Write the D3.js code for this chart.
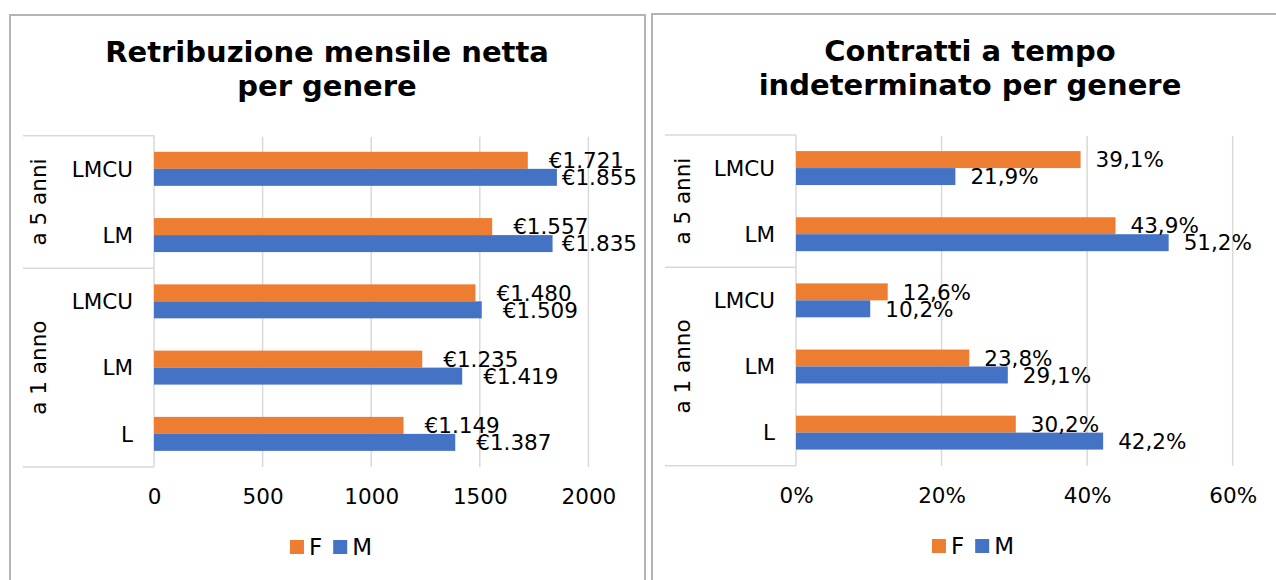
<!DOCTYPE html>
<html>
<head>
<meta charset="utf-8">
<script src="https://cdn.jsdelivr.net/npm/d3@7"></script>
<style>
  html, body { margin: 0; padding: 0; background: #fff; }
  svg { display: block; }
  text { font-family: "DejaVu Sans", Verdana, sans-serif; fill: #000; }
</style>
</head>
<body>
<svg id="chart" width="1276" height="580"></svg>
<script>
// Categories, top to bottom, with the period group each belongs to
const categoryLabels = ["LMCU", "LM", "LMCU", "LM", "L"];
const categoryGroups = ["a 5 anni", "a 5 anni", "a 1 anno", "a 1 anno", "a 1 anno"];
const groupNames = ["a 5 anni", "a 1 anno"];
const seriesNames = ["F", "M"];
const seriesColors = ["#ED7D31", "#4472C4"];

// Net monthly pay (EUR)
const salaryF = [1721, 1557, 1480, 1235, 1149];
const salaryM = [1855, 1835, 1509, 1419, 1387];
const salaryTicks = [0, 500, 1000, 1500, 2000];

// Share of permanent contracts (%)
const contractF = [39.1, 43.9, 12.6, 23.8, 30.2];
const contractM = [21.9, 51.2, 10.2, 29.1, 42.2];
const contractTicks = [0, 20, 40, 60];

const it = d3.formatLocale({
  decimal: ",", thousands: ".", grouping: [3], currency: ["€", ""]
});
const fmtEuro = it.format("$,.0f");
const fmtPct1 = v => it.format(",.1f")(v) + "%";
const fmtPct0 = v => it.format(",.0f")(v) + "%";

const svg = d3.select("#chart");

function drawPanel(cfg) {
  const g = svg.append("g");

  // outer frame
  g.append("rect")
    .attr("x", cfg.box[0]).attr("y", cfg.box[1])
    .attr("width", cfg.box[2]).attr("height", cfg.box[3])
    .attr("fill", "#fff").attr("stroke", "#b4b4b4").attr("stroke-width", 2);

  // title
  const title = g.append("text")
    .attr("text-anchor", "middle")
    .style("font-weight", "bold").style("font-size", "29px");
  cfg.title.forEach((line, i) => {
    title.append("tspan").attr("x", cfg.titleX).attr("y", cfg.titleY[i]).text(line);
  });

  const x = d3.scaleLinear().domain(cfg.domain).range([cfg.x0, cfg.x1]);
  const y = d3.scaleBand().domain(d3.range(categoryLabels.length))
    .range([cfg.yTop, cfg.yBottom]).paddingInner(0).paddingOuter(0);
  const sub = d3.scaleBand().domain(seriesNames)
    .range([0, y.bandwidth()]).paddingInner(0).paddingOuter(0.95);

  // vertical gridlines
  g.append("g").selectAll("line").data(cfg.ticks.slice(1)).join("line")
    .attr("x1", d => x(d)).attr("x2", d => x(d))
    .attr("y1", cfg.yTop + 1).attr("y2", cfg.yBottom)
    .attr("stroke", "#d9d9d9").attr("stroke-width", 1.5);

  // category table lines
  const tbl = g.append("g").attr("stroke", "#d9d9d9").attr("stroke-width", 1.5);
  const groupBounds = groupNames.map(name => {
    const idx = categoryGroups.map((gname, i) => gname === name ? i : -1).filter(i => i >= 0);
    return { name, top: y(idx[0]), bottom: y(idx[idx.length - 1]) + y.bandwidth() };
  });
  const hLines = [cfg.yTop].concat(groupBounds.map(b => b.bottom));
  tbl.selectAll("line.h").data(hLines).join("line")
    .attr("x1", cfg.tableLeft).attr("x2", x(0))
    .attr("y1", d => d).attr("y2", d => d);
  tbl.append("line")
    .attr("x1", x(0)).attr("x2", x(0))
    .attr("y1", cfg.yTop).attr("y2", cfg.yBottom);

  // bars
  const series = [cfg.valuesF, cfg.valuesM];
  series.forEach((vals, s) => {
    g.append("g").selectAll("rect").data(vals).join("rect")
      .attr("x", x(0))
      .attr("y", (d, i) => y(i) + sub(seriesNames[s]))
      .attr("width", d => x(d) - x(0))
      .attr("height", sub.bandwidth())
      .attr("fill", seriesColors[s]);
  });

  // value labels
  series.forEach((vals, s) => {
    g.append("g").selectAll("text").data(vals).join("text")
      .style("font-size", "21.5px")
      .attr("y", (d, i) => y(i) + sub(seriesNames[s]) + sub.bandwidth() / 2)
      .attr("dy", "0.36em")
      .text(d => cfg.fmtLabel(d))
      .attr("x", function (d) {
        const w = this.getComputedTextLength();
        return Math.min(x(d) + cfg.labelGap, cfg.labelMaxRight - w);
      });
  });

  // category labels
  g.append("g").selectAll("text").data(categoryLabels).join("text")
    .style("font-size", "21.5px")
    .attr("text-anchor", "end")
    .attr("x", cfg.catRight)
    .attr("y", (d, i) => y(i) + y.bandwidth() / 2)
    .attr("dy", "0.36em")
    .text(d => d);

  // group labels (rotated)
  g.append("g").selectAll("text").data(groupBounds).join("text")
    .style("font-size", "21.5px")
    .attr("text-anchor", "middle")
    .attr("transform", d => `translate(${cfg.groupX},${(d.top + d.bottom) / 2}) rotate(-90)`)
    .attr("dy", "0.36em")
    .text(d => d.name);

  // x axis tick labels
  const axis = d3.axisBottom(x).tickValues(cfg.ticks).tickSize(0).tickPadding(0)
    .tickFormat(cfg.fmtTick);
  const ax = g.append("g").attr("transform", `translate(0,${cfg.tickBaseline})`).call(axis);
  ax.select(".domain").remove();
  ax.selectAll("text").attr("dy", 0).attr("y", 0)
    .style("font-size", "21.5px").style("font-family", "DejaVu Sans, Verdana, sans-serif")
    .attr("fill", "#000");

  // legend
  const leg = g.append("g");
  let cx = 0;
  seriesNames.forEach((name, i) => {
    const item = leg.append("g").attr("transform", `translate(${cx},0)`);
    item.append("rect").attr("x", 0).attr("y", -15).attr("width", 14).attr("height", 14)
      .attr("fill", seriesColors[i]);
    const t = item.append("text").attr("x", 19).attr("y", 0)
      .style("font-size", "23px").text(name);
    cx += 19 + t.node().getComputedTextLength() + 11;
  });
  const legW = cx - 11;
  leg.attr("transform", `translate(${cfg.legendCenter - legW / 2},${cfg.legendBaseline})`);
}

drawPanel({
  box: [10, 15, 635, 600],
  title: ["Retribuzione mensile netta", "per genere"],
  titleX: 327, titleY: [62, 96],
  domain: [0, 2000], x0: 154, x1: 588.4,
  yTop: 135.7, yBottom: 467,
  ticks: salaryTicks,
  valuesF: salaryF, valuesM: salaryM,
  fmtLabel: fmtEuro, fmtTick: d => String(d),
  labelGap: 21, labelMaxRight: 637,
  tableLeft: 23, catRight: 133, groupX: 38,
  tickBaseline: 504,
  legendCenter: 331, legendBaseline: 555
});

drawPanel({
  box: [652, 14, 700, 600],
  title: ["Contratti a tempo", "indeterminato per genere"],
  titleX: 970, titleY: [61, 95],
  domain: [0, 60], x0: 796, x1: 1232.7,
  yTop: 135, yBottom: 465.7,
  ticks: contractTicks,
  valuesF: contractF, valuesM: contractM,
  fmtLabel: fmtPct1, fmtTick: fmtPct0,
  labelGap: 15, labelMaxRight: 1270,
  tableLeft: 665, catRight: 775, groupX: 682,
  tickBaseline: 503,
  legendCenter: 973, legendBaseline: 554
});
</script>
</body>
</html>
